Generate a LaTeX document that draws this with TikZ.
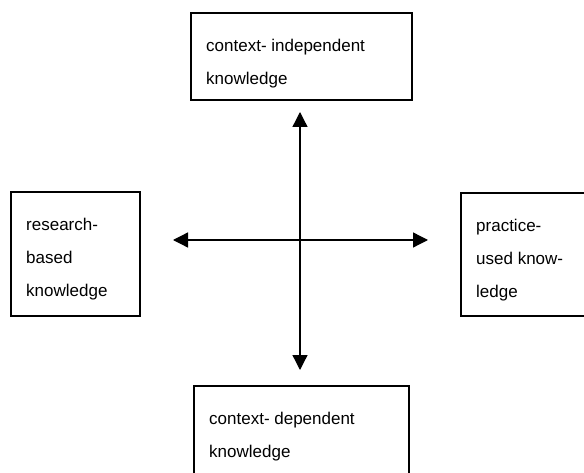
\documentclass[tikz,border=0pt]{standalone}
\usepackage{fontspec}
\setmainfont{Liberation Sans}
\usetikzlibrary{arrows.meta}
\begin{document}
\begin{tikzpicture}[x=1pt,y=-1pt,
  box/.style={draw=black,line width=1.4pt},
  lbl/.style={anchor=base west,inner sep=0pt,font=\fontsize{17}{17}\selectfont},
  axis/.style={line width=1.3pt,{Triangle[length=15pt,width=15pt]}-{Triangle[length=15pt,width=15pt]}}]
\useasboundingbox (0,0) rectangle (584,473);
% boxes
\draw[box] (191,13) rectangle (412,100);
\draw[box] (11,192) rectangle (140,316);
\draw[box] (461,193) rectangle (600,316);
\draw[box] (194,386) rectangle (409,490);
% texts
\node[lbl] (t1) at (206,52) {context- independent};
\node[lbl] (t2) at (206,85) {knowledge};
\node[lbl] (l1) at (26,231) {research-};
\node[lbl] (l2) at (26,264) {based};
\node[lbl] (l3) at (26,297) {knowledge};
\node[lbl] (r1) at (476,232) {practice-};
\node[lbl] (r2) at (476,265) {used know-};
\node[lbl] (r3) at (476,298) {ledge};
\node[lbl] (b1) at (209,424) {context- dependent};
\node[lbl] (b2) at (209,457) {knowledge};
% axes
\coordinate (top) at (300,112);
\coordinate (bot) at (300,370);
\coordinate (lft) at (173,240);
\coordinate (rgt) at (428,240);
\draw[axis] (top) -- (bot);
\draw[axis] (lft) -- (rgt);
\end{tikzpicture}
\end{document}
